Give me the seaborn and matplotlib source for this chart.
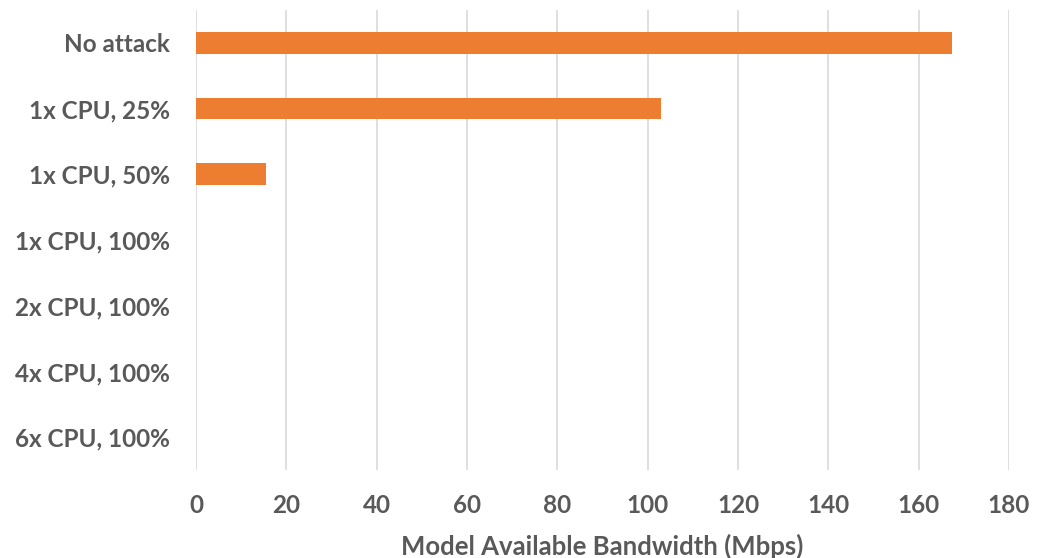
import matplotlib
matplotlib.use("Agg")
import matplotlib.pyplot as plt
import seaborn as sns
import pandas as pd

categories = ["No attack", "1x CPU, 25%", "1x CPU, 50%", "1x CPU, 100%",
              "2x CPU, 100%", "4x CPU, 100%", "6x CPU, 100%"]
bandwidth = [167.4, 103.0, 15.4, 0, 0, 0, 0]
xticks = [0, 20, 40, 60, 80, 100, 120, 140, 160, 180]

sns.set_theme(style="white")
plt.rcParams['font.family'] = ['Lato', 'DejaVu Sans']

df = pd.DataFrame({"cat": categories, "bw": bandwidth})

fig = plt.figure(figsize=(10.46, 5.58), dpi=100)
ax = fig.add_axes([196/1046, 1-470/558, (1009-196)/1046, 460/558])
sns.barplot(data=df, y="cat", x="bw", orient="h", color="#ED7D31",
            saturation=1, width=0.33, ax=ax, order=categories, linewidth=0)
ax.set_xlim(0, 180)
ax.set_xticks(xticks)
ax.set_xticklabels([str(t) for t in xticks])
ax.grid(axis="x", color="#D9D9D9", linewidth=1.2)
ax.set_axisbelow(True)
for s in ax.spines.values():
    s.set_visible(False)
ax.tick_params(axis="both", length=0, colors="#595959", labelsize=17.5)
ax.tick_params(axis="x", pad=17)
ax.tick_params(axis="y", pad=19)
for lbl in ax.get_xticklabels() + ax.get_yticklabels():
    lbl.set_fontweight("bold")
    lbl.set_color("#595959")
ax.set_ylabel("")
ax.set_xlabel("Model Available Bandwidth (Mbps)", fontsize=18.5, fontweight="bold",
              color="#595959", labelpad=12)
fig.savefig("out.png", dpi=100)
